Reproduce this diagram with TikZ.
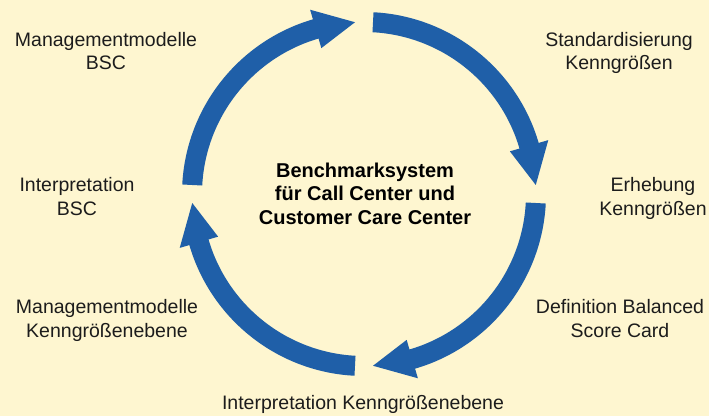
\documentclass[tikz,border=0pt]{standalone}
\usepackage{fontspec}
\setmainfont{Liberation Sans}
\usetikzlibrary{calc}
\definecolor{paper}{RGB}{254,246,208}
\definecolor{cycleblue}{RGB}{31,95,168}
\definecolor{ink}{RGB}{28,28,28}
\begin{document}
\begin{tikzpicture}[x=1pt,y=1pt,
  steplabel/.style={align=center, inner sep=0pt, anchor=base, text=ink,
    font=\fontsize{19.5}{23.5}\selectfont},
  hubtitle/.style={steplabel, text=black, font=\bfseries\fontsize{20}{23.5}\selectfont},
  cyclearrow/.style={fill=cycleblue, draw=none}]
  % background
  \fill[paper] (0,0) rectangle (709,416);
  \useasboundingbox (0,0) rectangle (709,416);
  \coordinate (c) at (364,222);
  % four curved arrows running clockwise round the hub
  \foreach \a in {180,90,0,-90}{
    \pgfmathsetmacro\sa{\a-3}
    \pgfmathsetmacro\ba{\a-73.7}
    \pgfmathsetmacro\ta{\a-87}
    \fill[cyclearrow] ($(c)+(\sa:182)$) arc[start angle=\sa, end angle=\ba, radius=182]
      -- ($(c)+(\ba:192)$) -- ($(c)+(\ta:172)$) -- ($(c)+(\ba:152)$)
      -- ($(c)+(\ba:162)$) arc[start angle=\ba, end angle=\sa, radius=162] -- cycle;
  }
  % hub (base anchor sits on the last line)
  \node[hubtitle] (hub) at (365,192) {Benchmarksystem\\für Call Center und\\Customer Care Center};
  % steps
  \node[steplabel] (mmbsc)  at (106,346) {Managementmodelle\\BSC};
  \node[steplabel] (std)    at (619,346) {Standardisierung\\Kenngrößen};
  \node[steplabel] (erh)    at (653,201) {Erhebung\\Kenngrößen};
  \node[steplabel] (bsc)    at (620,79)  {Definition Balanced\\Score Card};
  \node[steplabel] (ikenn)  at (363,7)   {Interpretation Kenngrößenebene};
  \node[steplabel] (mmkenn) at (107,79)  {Managementmodelle\\Kenngrößenebene};
  \node[steplabel] (ibsc)   at (77,201)  {Interpretation\\BSC};
\end{tikzpicture}
\end{document}
